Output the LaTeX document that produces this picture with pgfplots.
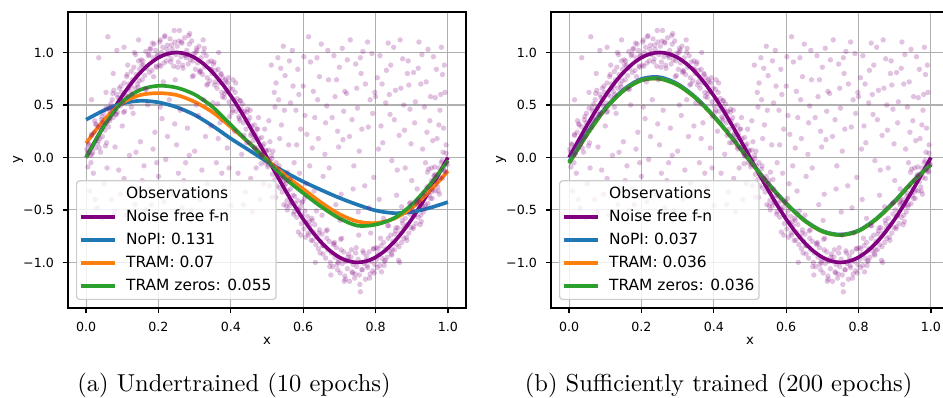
\documentclass[border=0pt]{standalone}
\usepackage{pgfplots}
\usepackage{pgfplotstable}
\pgfplotsset{compat=1.18}
\usepackage{fontspec}
\newfontfamily\dejavu{DejaVu Sans}
\definecolor{mplpurple}{HTML}{800080}
\definecolor{tabblue}{HTML}{1F77B4}
\definecolor{taborange}{HTML}{FF7F0E}
\definecolor{tabgreen}{HTML}{2CA02C}
\definecolor{gridgray}{HTML}{B0B0B0}
\definecolor{leggray}{HTML}{CCCCCC}

\pgfplotstableread[row sep=\\]{
x y\\
0.002 0.08\\ 0.005 -0.09\\ 0.008 0.12\\ 0.012 0.02\\ 0.015 0.21\\ 0.018 0.05\\
0.022 0.24\\ 0.025 0.09\\ 0.028 0.31\\ 0.032 0.13\\ 0.035 0.29\\ 0.038 0.18\\
0.042 0.36\\ 0.045 0.20\\ 0.048 0.42\\ 0.052 0.26\\ 0.055 0.47\\ 0.058 0.33\\
0.062 0.29\\ 0.065 0.44\\ 0.068 0.51\\ 0.072 0.55\\ 0.075 0.38\\ 0.078 0.47\\
0.082 0.41\\ 0.085 0.60\\ 0.088 0.57\\ 0.092 0.66\\ 0.095 0.49\\ 0.098 0.62\\
0.102 0.52\\ 0.105 0.71\\ 0.108 0.60\\ 0.112 0.77\\ 0.115 0.58\\ 0.118 0.70\\
0.122 0.63\\ 0.125 0.82\\ 0.128 0.74\\ 0.132 0.86\\ 0.135 0.66\\ 0.138 0.79\\
0.142 0.70\\ 0.145 0.92\\ 0.148 0.84\\ 0.152 0.93\\ 0.155 0.74\\ 0.158 0.88\\
0.162 0.78\\ 0.165 1.01\\ 0.168 0.85\\ 0.172 0.97\\ 0.175 0.81\\ 0.178 1.04\\
0.182 0.83\\ 0.185 0.95\\ 0.188 1.08\\ 0.192 1.02\\ 0.195 0.86\\ 0.198 0.97\\
0.202 0.88\\ 0.205 1.12\\ 0.208 1.00\\ 0.212 1.05\\ 0.215 0.90\\ 0.218 1.16\\
0.222 0.92\\ 0.225 1.07\\ 0.228 0.99\\ 0.232 1.13\\ 0.235 0.94\\ 0.238 1.03\\
0.242 0.87\\ 0.245 1.10\\ 0.248 0.98\\ 0.252 1.06\\ 0.255 0.91\\ 0.258 1.21\\
0.262 0.96\\ 0.265 1.09\\ 0.268 0.85\\ 0.272 1.14\\ 0.275 0.97\\ 0.278 1.02\\
0.282 0.89\\ 0.285 1.08\\ 0.288 0.93\\ 0.292 1.11\\ 0.295 0.92\\ 0.298 0.99\\
0.302 0.84\\ 0.305 1.04\\ 0.308 0.90\\ 0.312 1.06\\ 0.315 0.83\\ 0.318 0.95\\
0.322 0.79\\ 0.325 1.00\\ 0.328 0.86\\ 0.332 0.97\\ 0.335 0.76\\ 0.338 0.91\\
0.342 0.73\\ 0.345 0.92\\ 0.348 0.80\\ 0.352 0.89\\ 0.355 0.69\\ 0.358 0.83\\
0.362 0.66\\ 0.365 0.84\\ 0.368 0.71\\ 0.372 0.80\\ 0.375 0.62\\ 0.378 0.76\\
0.382 0.57\\ 0.385 0.74\\ 0.388 0.63\\ 0.392 0.71\\ 0.395 0.53\\ 0.398 0.66\\
0.402 0.49\\ 0.405 0.65\\ 0.408 0.55\\ 0.412 0.62\\ 0.415 0.44\\ 0.418 0.56\\
0.422 0.39\\ 0.425 0.54\\ 0.428 0.46\\ 0.432 0.51\\ 0.435 0.33\\ 0.438 0.44\\
0.442 0.27\\ 0.445 0.43\\ 0.448 0.35\\ 0.452 0.38\\ 0.455 0.21\\ 0.458 0.30\\
0.462 0.16\\ 0.465 0.31\\ 0.468 0.22\\ 0.472 0.27\\ 0.475 0.09\\ 0.478 0.18\\
0.482 0.04\\ 0.485 0.19\\ 0.488 0.11\\ 0.492 0.13\\ 0.495 -0.05\\ 0.498 0.06\\
0.502 -0.09\\ 0.505 0.07\\ 0.508 -0.03\\ 0.512 0.02\\ 0.515 -0.16\\ 0.518 -0.08\\
0.522 -0.21\\ 0.525 -0.05\\ 0.528 -0.17\\ 0.532 -0.11\\ 0.535 -0.29\\ 0.538 -0.20\\
0.542 -0.33\\ 0.545 -0.18\\ 0.548 -0.27\\ 0.552 -0.25\\ 0.555 -0.41\\ 0.558 -0.32\\
0.562 -0.46\\ 0.565 -0.30\\ 0.568 -0.42\\ 0.572 -0.36\\ 0.575 -0.52\\ 0.578 -0.44\\
0.582 -0.57\\ 0.585 -0.41\\ 0.588 -0.50\\ 0.592 -0.47\\ 0.595 -0.63\\ 0.598 -0.55\\
0.602 -0.68\\ 0.605 -0.51\\ 0.608 -0.62\\ 0.612 -0.56\\ 0.615 -0.74\\ 0.618 -0.65\\
0.622 -0.79\\ 0.625 -0.60\\ 0.628 -0.71\\ 0.632 -0.64\\ 0.635 -0.83\\ 0.638 -0.76\\
0.642 -0.87\\ 0.645 -0.69\\ 0.648 -0.80\\ 0.652 -0.73\\ 0.655 -0.92\\ 0.658 -0.84\\
0.662 -0.96\\ 0.665 -0.77\\ 0.668 -0.88\\ 0.672 -0.80\\ 0.675 -1.00\\ 0.678 -0.91\\
0.682 -1.04\\ 0.685 -0.83\\ 0.688 -0.95\\ 0.692 -0.86\\ 0.695 -1.07\\ 0.698 -0.98\\
0.702 -1.10\\ 0.705 -0.88\\ 0.708 -1.01\\ 0.712 -0.90\\ 0.715 -1.13\\ 0.718 -0.99\\
0.722 -1.06\\ 0.725 -0.92\\ 0.728 -1.18\\ 0.732 -0.95\\ 0.735 -1.09\\ 0.738 -1.02\\
0.742 -1.15\\ 0.745 -0.91\\ 0.748 -1.04\\ 0.752 -0.97\\ 0.755 -1.12\\ 0.758 -1.28\\
0.762 -1.07\\ 0.765 -0.89\\ 0.768 -1.01\\ 0.772 -1.16\\ 0.775 -0.94\\ 0.778 -1.05\\
0.782 -0.90\\ 0.785 -1.11\\ 0.788 -0.99\\ 0.792 -1.08\\ 0.795 -0.87\\ 0.798 -1.02\\
0.802 -0.86\\ 0.805 -1.05\\ 0.808 -0.92\\ 0.812 -1.03\\ 0.815 -0.84\\ 0.818 -0.96\\
0.822 -0.81\\ 0.825 -0.99\\ 0.828 -0.87\\ 0.832 -0.95\\ 0.835 -0.77\\ 0.838 -0.89\\
0.842 -0.74\\ 0.845 -0.93\\ 0.848 -0.80\\ 0.852 -0.88\\ 0.855 -0.70\\ 0.858 -0.83\\
0.862 -0.67\\ 0.865 -0.85\\ 0.868 -0.72\\ 0.872 -0.81\\ 0.875 -0.63\\ 0.878 -0.77\\
0.882 -0.58\\ 0.885 -0.76\\ 0.888 -0.64\\ 0.892 -0.72\\ 0.895 -0.54\\ 0.898 -0.67\\
0.902 -0.50\\ 0.905 -0.66\\ 0.908 -0.55\\ 0.912 -0.63\\ 0.915 -0.45\\ 0.918 -0.57\\
0.922 -0.40\\ 0.925 -0.55\\ 0.928 -0.46\\ 0.932 -0.52\\ 0.935 -0.34\\ 0.938 -0.45\\
0.942 -0.28\\ 0.945 -0.44\\ 0.948 -0.36\\ 0.952 -0.39\\ 0.955 -0.22\\ 0.958 -0.31\\
0.962 -0.17\\ 0.965 -0.32\\ 0.968 -0.23\\ 0.972 -0.28\\ 0.975 -0.10\\ 0.978 -0.19\\
0.982 -0.05\\ 0.985 -0.20\\ 0.988 -0.12\\ 0.992 -0.14\\ 0.995 0.04\\ 0.998 -0.07\\
0.0035 0.05\\ 0.0135 -0.05\\ 0.0235 0.35\\ 0.0335 0.16\\ 0.0435 0.39\\ 0.0535 0.11\\ 0.0635 0.47\\ 0.0735 0.61\\ 0.0835 0.41\\ 0.0935 0.56\\
0.1035 0.43\\ 0.1135 0.79\\ 0.1235 0.68\\ 0.1335 1.00\\ 0.1435 0.67\\ 0.1535 0.88\\ 0.1635 0.65\\ 0.1735 0.98\\ 0.1835 1.09\\ 0.1935 0.87\\
0.2035 1.10\\ 0.2135 0.72\\ 0.2235 1.03\\ 0.2335 0.91\\ 0.2435 1.21\\ 0.2535 0.86\\ 0.2635 1.10\\ 0.2735 0.98\\ 0.2835 1.16\\ 0.2935 0.77\\
0.3035 1.00\\ 0.3135 0.81\\ 0.3235 1.12\\ 0.3335 0.69\\ 0.3435 0.84\\ 0.3535 0.91\\ 0.3635 0.51\\ 0.3735 0.79\\ 0.3835 0.61\\ 0.3935 0.76\\
0.4035 0.43\\ 0.4135 0.71\\ 0.4235 0.37\\ 0.4335 0.43\\ 0.4435 0.14\\ 0.4535 0.45\\ 0.4635 0.20\\ 0.4735 0.27\\ 0.4835 -0.06\\ 0.4935 0.27\\
0.5035 -0.07\\ 0.5135 -0.01\\ 0.5235 -0.38\\ 0.5335 -0.08\\ 0.5435 -0.23\\ 0.5535 -0.46\\ 0.5635 -0.21\\ 0.5735 -0.54\\ 0.5835 -0.49\\ 0.5935 -0.74\\
0.6035 -0.39\\ 0.6135 -0.72\\ 0.6235 -0.58\\ 0.6335 -1.00\\ 0.6435 -0.72\\ 0.6535 -0.84\\ 0.6635 -0.70\\ 0.6735 -1.04\\ 0.6835 -0.82\\ 0.6935 -1.02\\
0.7035 -0.78\\ 0.7135 -1.18\\ 0.7235 -0.95\\ 0.7335 -0.88\\ 0.7435 -1.11\\ 0.7535 -0.74\\ 0.7635 -1.07\\ 0.7735 -0.98\\ 0.7835 -1.15\\ 0.7935 -0.87\\
0.8035 -0.97\\ 0.8135 -0.77\\ 0.8235 -1.03\\ 0.8335 -0.65\\ 0.8435 -0.92\\ 0.8535 -0.73\\ 0.8635 -0.98\\ 0.8735 -0.60\\ 0.8835 -0.66\\ 0.8935 -0.44\\
0.9035 -0.68\\ 0.9135 -0.43\\ 0.9235 -0.64\\ 0.9335 -0.37\\ 0.9435 -0.14\\ 0.9535 -0.33\\ 0.9635 -0.09\\ 0.9735 -0.32\\ 0.9835 -0.03\\ 0.9935 -0.13\\
0.0065 0.13\\ 0.0165 0.03\\ 0.0265 0.32\\ 0.0365 0.09\\ 0.0465 0.33\\ 0.0565 0.14\\ 0.0665 0.37\\ 0.0765 0.64\\ 0.0865 0.43\\ 0.0965 0.68\\
0.1065 0.44\\ 0.1165 0.66\\ 0.1265 0.60\\ 0.1365 0.98\\ 0.1465 0.73\\ 0.1565 0.92\\ 0.1665 0.65\\ 0.1765 1.03\\ 0.1865 0.77\\ 0.1965 0.97\\
0.2065 0.87\\ 0.2165 1.15\\ 0.2265 0.98\\ 0.2365 1.07\\ 0.2465 0.74\\ 0.2565 1.11\\ 0.2665 0.88\\ 0.2765 0.95\\ 0.2865 1.18\\ 0.2965 0.78\\
0.3065 1.02\\ 0.3165 0.82\\ 0.3265 1.04\\ 0.3365 0.70\\ 0.3465 0.84\\ 0.3565 0.72\\ 0.3665 1.00\\ 0.3765 0.58\\ 0.3865 0.72\\ 0.3965 0.39\\
0.4065 0.74\\ 0.4165 0.49\\ 0.4265 0.54\\ 0.4365 0.21\\ 0.4465 0.46\\ 0.4565 0.23\\ 0.4665 0.08\\ 0.4765 0.38\\ 0.4865 0.01\\ 0.4965 0.07\\
0.5065 -0.27\\ 0.5165 0.06\\ 0.5265 -0.27\\ 0.5365 -0.20\\ 0.5465 -0.45\\ 0.5565 -0.14\\ 0.5665 -0.43\\ 0.5765 -0.37\\ 0.5865 -0.71\\ 0.5965 -0.43\\
0.6065 -0.76\\ 0.6165 -0.61\\ 0.6265 -0.79\\ 0.6365 -0.51\\ 0.6465 -0.91\\ 0.6565 -0.84\\ 0.6665 -0.69\\ 0.6765 -1.12\\ 0.6865 -0.81\\ 0.6965 -1.00\\
0.7065 -0.77\\ 0.7165 -1.16\\ 0.7265 -0.98\\ 0.7365 -1.10\\ 0.7465 -0.86\\ 0.7565 -1.21\\ 0.7665 -0.91\\ 0.7765 -1.03\\ 0.7865 -0.72\\ 0.7965 -1.10\\
0.8065 -0.87\\ 0.8165 -1.09\\ 0.8265 -0.98\\ 0.8365 -0.65\\ 0.8465 -0.88\\ 0.8565 -0.67\\ 0.8665 -1.00\\ 0.8765 -0.68\\ 0.8865 -0.79\\ 0.8965 -0.43\\
0.9065 -0.56\\ 0.9165 -0.41\\ 0.9265 -0.61\\ 0.9365 -0.47\\ 0.9465 -0.11\\ 0.9565 -0.39\\ 0.9665 -0.16\\ 0.9765 -0.35\\ 0.9865 0.05\\ 0.9965 -0.05\\
0.52 0.62\\ 0.53 0.95\\ 0.54 0.31\\ 0.55 0.78\\ 0.56 0.12\\ 0.57 1.02\\ 0.58 0.45\\ 0.59 -0.15\\
0.60 0.68\\ 0.61 0.22\\ 0.62 0.91\\ 0.63 -0.32\\ 0.64 0.55\\ 0.65 1.08\\ 0.66 0.03\\ 0.67 0.74\\
0.68 0.38\\ 0.69 -0.45\\ 0.70 0.86\\ 0.71 0.17\\ 0.72 0.61\\ 0.73 1.12\\ 0.74 -0.08\\ 0.75 0.47\\
0.76 0.80\\ 0.77 -0.27\\ 0.78 0.29\\ 0.79 0.99\\ 0.80 0.58\\ 0.81 -0.40\\ 0.82 0.14\\ 0.83 0.83\\
0.84 0.41\\ 0.85 1.05\\ 0.86 -0.12\\ 0.87 0.66\\ 0.88 0.26\\ 0.89 0.92\\ 0.90 -0.22\\ 0.91 0.53\\
0.92 1.10\\ 0.93 0.08\\ 0.94 0.72\\ 0.95 0.35\\ 0.96 0.96\\ 0.97 0.18\\ 0.98 0.60\\ 0.99 0.88\\
0.505 0.35\\ 0.515 -0.38\\ 0.525 0.71\\ 0.535 0.18\\ 0.545 1.06\\ 0.565 0.52\\ 0.575 -0.05\\
0.585 0.84\\ 0.605 0.40\\ 0.615 1.15\\ 0.625 0.09\\ 0.645 0.77\\ 0.655 -0.18\\ 0.665 0.49\\
0.685 0.97\\ 0.695 0.25\\ 0.705 -0.35\\ 0.715 0.63\\ 0.735 0.36\\ 0.745 0.89\\ 0.755 0.06\\
0.765 1.01\\ 0.785 0.55\\ 0.795 -0.19\\ 0.805 0.76\\ 0.815 0.30\\ 0.835 1.09\\ 0.845 -0.03\\
0.855 0.64\\ 0.865 0.21\\ 0.875 0.94\\ 0.895 0.46\\ 0.905 0.81\\ 0.915 -0.30\\ 0.925 0.70\\
0.935 0.48\\ 0.945 1.03\\ 0.955 -0.10\\ 0.965 0.57\\ 0.975 0.31\\ 0.985 0.79\\ 0.995 0.12\\
0.512 0.88\\ 0.548 0.45\\ 0.572 0.68\\ 0.593 0.27\\ 0.618 -0.08\\ 0.638 0.95\\ 0.662 0.33\\
0.688 0.58\\ 0.708 1.04\\ 0.728 0.20\\ 0.752 -0.52\\ 0.772 0.70\\ 0.792 0.42\\ 0.812 0.97\\
0.838 0.60\\ 0.858 -0.36\\ 0.878 0.50\\ 0.898 0.13\\ 0.918 0.85\\ 0.942 0.24\\ 0.962 -0.18\\
0.982 1.05\\ 0.652 -0.55\\ 0.702 -0.60\\ 0.782 -0.48\\ 0.822 -0.58\\ 0.872 -0.47\\ 0.556 -0.50\\
0.598 -0.42\\ 0.922 -0.43\\
0.508 0.15\\ 0.522 0.48\\ 0.538 0.85\\ 0.552 -0.22\\ 0.562 0.92\\ 0.582 0.12\\ 0.602 0.96\\ 0.608 -0.25\\
0.628 0.63\\ 0.642 0.18\\ 0.668 1.02\\ 0.672 -0.10\\ 0.692 0.74\\ 0.712 0.44\\ 0.722 0.93\\ 0.738 -0.30\\
0.748 0.66\\ 0.762 0.27\\ 0.778 1.10\\ 0.798 0.62\\ 0.808 0.08\\ 0.828 0.52\\ 0.842 0.88\\ 0.852 0.36\\
0.868 1.12\\ 0.882 -0.10\\ 0.892 0.69\\ 0.908 0.33\\ 0.928 0.98\\ 0.938 -0.05\\ 0.952 0.58\\ 0.968 0.84\\
0.978 0.45\\ 0.992 0.62\\ 0.988 0.28\\ 0.958 0.16\\ 0.888 0.80\\ 0.818 0.70\\ 0.758 0.95\\ 0.698 0.10\\
0.632 0.38\\ 0.588 0.60\\ 0.532 0.55\\
0.01 -0.32\\ 0.02 -0.15\\ 0.03 -0.48\\ 0.04 0.05\\ 0.05 -0.25\\ 0.06 1.15\\ 0.07 -0.40\\ 0.08 0.10\\
0.09 -0.12\\ 0.10 0.30\\ 0.11 -0.55\\ 0.12 0.02\\ 0.13 0.42\\ 0.14 -0.30\\ 0.15 0.15\\ 0.16 -0.08\\
0.17 0.50\\ 0.18 -0.45\\ 0.19 0.24\\ 0.20 -0.18\\ 0.21 0.37\\ 0.22 -0.02\\ 0.23 0.55\\ 0.24 -0.35\\
0.25 0.12\\ 0.26 0.45\\ 0.27 -0.22\\ 0.28 0.28\\ 0.29 -0.50\\ 0.30 0.06\\ 0.31 0.40\\ 0.32 -0.12\\
0.33 0.20\\ 0.34 -0.38\\ 0.35 0.52\\ 0.36 -0.05\\ 0.37 0.33\\ 0.38 -0.28\\ 0.39 0.09\\ 0.40 -0.46\\
0.41 0.25\\ 0.42 -0.15\\ 0.43 0.03\\ 0.44 -0.33\\ 0.45 0.14\\ 0.46 -0.52\\ 0.47 -0.10\\ 0.48 -0.40\\
0.49 -0.25\\ 0.035 0.95\\ 0.055 0.62\\ 0.085 1.02\\ 0.015 0.55\\ 0.145 1.12\\ 0.115 0.88\\
0.015 0.22\\ 0.045 -0.58\\ 0.065 0.35\\ 0.095 -0.35\\ 0.125 0.48\\ 0.155 -0.22\\ 0.185 0.08\\
0.215 -0.42\\ 0.245 0.32\\ 0.275 -0.05\\ 0.305 0.50\\ 0.335 -0.25\\ 0.365 0.18\\ 0.395 -0.10\\
0.425 0.35\\ 0.455 -0.20\\ 0.485 0.02\\ 0.175 -0.30\\ 0.265 -0.48\\ 0.355 -0.55\\
0.025 -0.40\\ 0.058 -0.10\\ 0.078 -0.52\\ 0.105 -0.20\\ 0.138 0.05\\ 0.165 -0.50\\ 0.195 -0.05\\
0.225 0.20\\ 0.255 -0.15\\ 0.285 0.02\\ 0.315 -0.40\\ 0.345 0.30\\ 0.375 -0.15\\ 0.405 0.45\\
0.435 -0.45\\ 0.465 0.10\\ 0.205 0.48\\ 0.325 0.55\\ 0.135 -0.45\\ 0.075 0.80\\ 0.105 1.05\\
}\obstable

\pgfplotsset{
  mystyle/.style={
    scale only axis, width=162.45pt, height=120.8pt,
    xmin=-0.05, xmax=1.05, ymin=-1.434, ymax=1.386,
    xtick={0,0.2,0.4,0.6,0.8,1}, xticklabels={0.0,0.2,0.4,0.6,0.8,1.0},
    ytick={-1,-0.5,0,0.5,1}, yticklabels={−1.0,−0.5,0.0,0.5,1.0},
    grid=major, major grid style={gridgray, line width=0.45pt},
    tick align=outside, major tick length=2.24pt,
    tick style={black, line width=0.5pt},
    axis line style={line width=0.5pt},
    xtick pos=left, ytick pos=left,
    tick label style={font=\dejavu\fontsize{5.15}{6}\selectfont},
    label style={font=\dejavu\fontsize{5.4}{6}\selectfont},
    xlabel={x}, ylabel={y},
    xlabel style={at={(axis description cs:0.5,-0.125)}, anchor=base},
    ylabel style={at={(axis description cs:-0.1256,0.5)}, anchor=center, rotate=0},
    legend cell align=left,
    legend image code/.code={\draw[#1] (0pt,0pt) -- (14pt,0pt); \path (0pt,0pt) (16.8pt,0pt);},
    legend style={at={(axis description cs:0.0201,0.027)}, anchor=south west,
      fill=white, fill opacity=0.8, draw opacity=1, text opacity=1,
      draw=leggray, line width=0.5pt, rounded corners=1.2pt,
      inner xsep=0.9pt, inner ysep=0.835pt,
      font=\dejavu\fontsize{6.3}{7.5}\selectfont,
      nodes={inner xsep=1pt, inner ysep=1.2pt, text height=5.17pt, text depth=1.77pt}},
  },
  obs/.style={only marks, mark=*, mark size=1.1pt, forget plot,
    color=mplpurple, draw opacity=0, fill opacity=0.24,
    mark options={draw opacity=0, fill opacity=0.24}},
  curve/.style={line width=1.5pt, smooth},
}

\begin{document}
\begin{tikzpicture}
% ---------------- left ----------------
\begin{axis}[mystyle, at={(27.76pt,-4.9pt)}, anchor=north west]
\addplot[obs] table[x=x,y=y]{\obstable};
\addlegendimage{empty legend}
\addlegendentry{Observations}
\addplot[curve, mplpurple] coordinates {
(0,0) (0.025,0.1564) (0.05,0.3090) (0.075,0.4540) (0.1,0.5878) (0.125,0.7071) (0.15,0.8090) (0.175,0.8910) (0.2,0.9511) (0.225,0.9877) (0.25,1)
(0.275,0.9877) (0.3,0.9511) (0.325,0.8910) (0.35,0.8090) (0.375,0.7071) (0.4,0.5878) (0.425,0.4540) (0.45,0.3090) (0.475,0.1564) (0.5,0)
(0.525,-0.1564) (0.55,-0.3090) (0.575,-0.4540) (0.6,-0.5878) (0.625,-0.7071) (0.65,-0.8090) (0.675,-0.8910) (0.7,-0.9511) (0.725,-0.9877) (0.75,-1)
(0.775,-0.9877) (0.8,-0.9511) (0.825,-0.8910) (0.85,-0.8090) (0.875,-0.7071) (0.9,-0.5878) (0.925,-0.4540) (0.95,-0.3090) (0.975,-0.1564) (1,0)};
\addlegendentry{Noise free f-n}
\addplot[curve, tabblue] coordinates {
(0,0.36) (0.05,0.45) (0.1,0.515) (0.15,0.54) (0.2,0.525) (0.25,0.48) (0.3,0.405) (0.35,0.30) (0.4,0.18) (0.45,0.07) (0.5,-0.04)
(0.55,-0.14) (0.6,-0.23) (0.65,-0.31) (0.7,-0.385) (0.75,-0.45) (0.8,-0.505) (0.85,-0.53) (0.9,-0.52) (0.95,-0.48) (1,-0.425)};
\addlegendentry{NoPI: 0.131}
\addplot[curve, taborange] coordinates {
(0,0.136) (0.05,0.36) (0.1,0.52) (0.15,0.595) (0.2,0.613) (0.25,0.595) (0.3,0.53) (0.35,0.43) (0.4,0.29) (0.45,0.14) (0.5,-0.02)
(0.55,-0.17) (0.6,-0.30) (0.65,-0.43) (0.7,-0.54) (0.75,-0.61) (0.8,-0.625) (0.85,-0.585) (0.9,-0.48) (0.95,-0.32) (1,-0.13)};
\addlegendentry{TRAM: 0.07}
\addplot[curve, tabgreen] coordinates {
(0,0.0) (0.05,0.30) (0.1,0.53) (0.15,0.645) (0.2,0.683) (0.25,0.665) (0.3,0.60) (0.35,0.48) (0.4,0.31) (0.45,0.14) (0.5,-0.03)
(0.55,-0.20) (0.6,-0.34) (0.65,-0.47) (0.7,-0.58) (0.75,-0.65) (0.8,-0.64) (0.85,-0.58) (0.9,-0.45) (0.95,-0.26) (1,-0.03)};
\addlegendentry{TRAM zeros: 0.055}
\end{axis}
% ---------------- right ----------------
\begin{axis}[mystyle, at={(224.9pt,-4.9pt)}, anchor=north west]
\addplot[obs] table[x=x,y=y]{\obstable};
\addlegendimage{empty legend}
\addlegendentry{Observations}
\addplot[curve, mplpurple] coordinates {
(0,0) (0.025,0.1564) (0.05,0.3090) (0.075,0.4540) (0.1,0.5878) (0.125,0.7071) (0.15,0.8090) (0.175,0.8910) (0.2,0.9511) (0.225,0.9877) (0.25,1)
(0.275,0.9877) (0.3,0.9511) (0.325,0.8910) (0.35,0.8090) (0.375,0.7071) (0.4,0.5878) (0.425,0.4540) (0.45,0.3090) (0.475,0.1564) (0.5,0)
(0.525,-0.1564) (0.55,-0.3090) (0.575,-0.4540) (0.6,-0.5878) (0.625,-0.7071) (0.65,-0.8090) (0.675,-0.8910) (0.7,-0.9511) (0.725,-0.9877) (0.75,-1)
(0.775,-0.9877) (0.8,-0.9511) (0.825,-0.8910) (0.85,-0.8090) (0.875,-0.7071) (0.9,-0.5878) (0.925,-0.4540) (0.95,-0.3090) (0.975,-0.1564) (1,0)};
\addlegendentry{Noise free f-n}
\addplot[curve, tabblue] coordinates {
(0,-0.04) (0.05,0.235) (0.1,0.47) (0.15,0.645) (0.2,0.748) (0.25,0.765) (0.3,0.70) (0.35,0.572) (0.4,0.395) (0.45,0.19) (0.5,-0.03)
(0.55,-0.245) (0.6,-0.435) (0.65,-0.595) (0.7,-0.70) (0.75,-0.735) (0.8,-0.695) (0.85,-0.58) (0.9,-0.415) (0.95,-0.225) (1,-0.065)};
\addlegendentry{NoPI: 0.037}
\addplot[curve, taborange] coordinates {
(0,-0.055) (0.05,0.22) (0.1,0.46) (0.15,0.635) (0.2,0.735) (0.25,0.75) (0.3,0.69) (0.35,0.565) (0.4,0.39) (0.45,0.185) (0.5,-0.035)
(0.55,-0.25) (0.6,-0.44) (0.65,-0.60) (0.7,-0.705) (0.75,-0.74) (0.8,-0.70) (0.85,-0.585) (0.9,-0.42) (0.95,-0.23) (1,-0.07)};
\addlegendentry{TRAM: 0.036}
\addplot[curve, tabgreen] coordinates {
(0,-0.055) (0.05,0.22) (0.1,0.46) (0.15,0.635) (0.2,0.735) (0.25,0.75) (0.3,0.69) (0.35,0.565) (0.4,0.39) (0.45,0.185) (0.5,-0.035)
(0.55,-0.25) (0.6,-0.44) (0.65,-0.60) (0.7,-0.705) (0.75,-0.74) (0.8,-0.70) (0.85,-0.585) (0.9,-0.42) (0.95,-0.23) (1,-0.07)};
\addlegendentry{TRAM zeros: 0.036}
\end{axis}
\node[anchor=base, font=\fontsize{10}{12}\selectfont] at (95.5pt,-159.6pt) {(a) Undertrained (10 epochs)};
\node[anchor=base, font=\fontsize{10}{12}\selectfont] at (293.3pt,-159.6pt) {(b) Sufficiently trained (200 epochs)};
\pgfresetboundingbox
\path[use as bounding box] (0pt,0pt) rectangle (384.9pt,-162.45pt);
\end{tikzpicture}
\end{document}
